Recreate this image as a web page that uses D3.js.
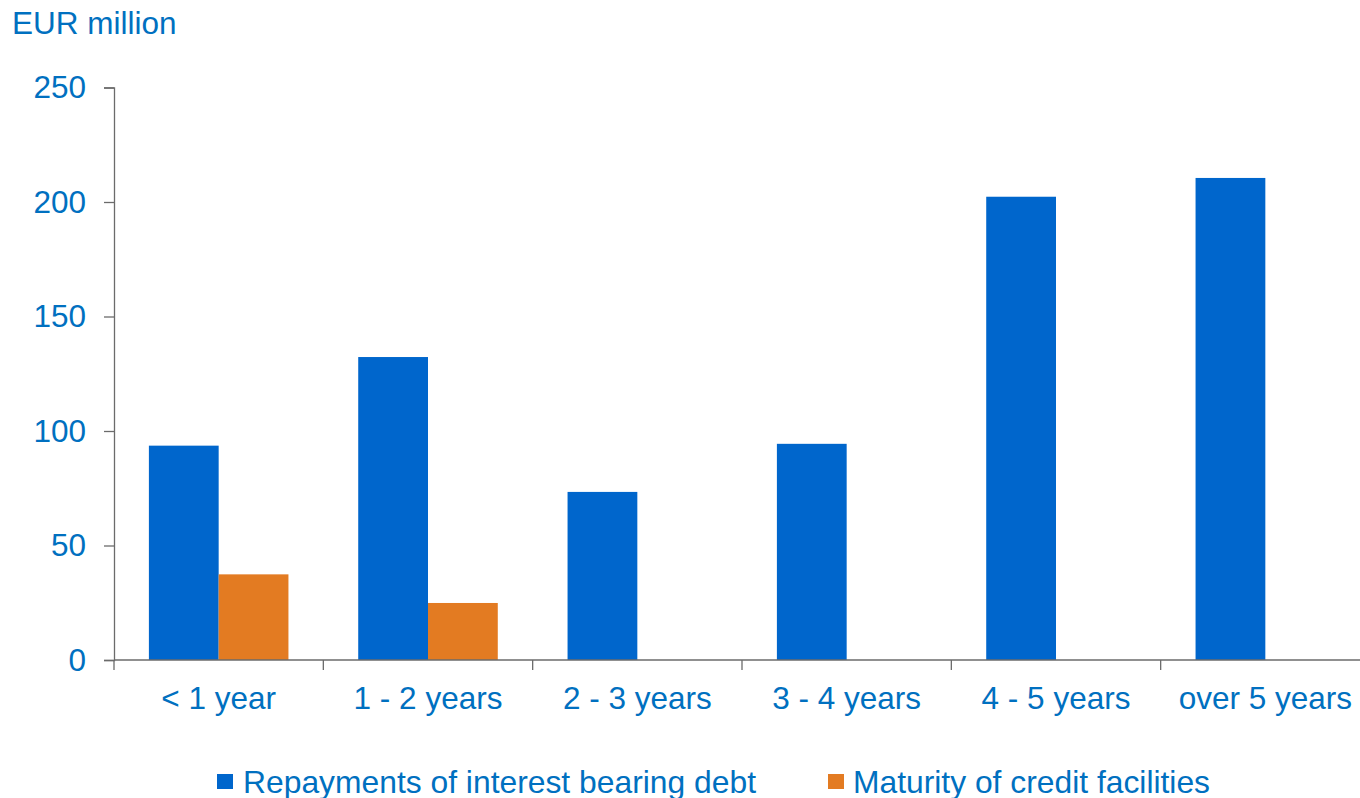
<!DOCTYPE html>
<html>
<head>
<meta charset="utf-8">
<script src="https://cdn.jsdelivr.net/npm/d3@7"></script>
<style>
  html, body { margin: 0; padding: 0; background: #fff; }
  svg { display: block; }
  text { font-family: "Liberation Sans", Arial, sans-serif; fill: #0070C0; }
</style>
</head>
<body>
<svg id="chart" width="1360" height="798"></svg>
<script>
// Debt maturity profile, EUR million
const categories = ["< 1 year", "1 - 2 years", "2 - 3 years", "3 - 4 years", "4 - 5 years", "over 5 years"];
const seriesNames = ["Repayments of interest bearing debt", "Maturity of credit facilities"];
const repayments = [93.6, 132.3, 73.4, 94.4, 202.3, 210.5];
const creditFacilities = [37.4, 24.9, 0, 0, 0, 0];
const yTicks = [0, 50, 100, 150, 200, 250];
const colors = ["#0066CC", "#E37B22"];

const svg = d3.select("#chart");
const plotLeft = 114, plotRight = 1370, plotTop = 87.5, plotBottom = 660;
const fontSize = 31.5;

const x = d3.scaleBand().domain(categories).range([plotLeft, plotRight]).paddingInner(0).paddingOuter(0);
const xs = d3.scaleBand().domain(seriesNames).range([0, x.bandwidth()]).paddingInner(0).paddingOuter(0.5);
const y = d3.scaleLinear().domain([0, 250]).range([plotBottom, plotTop]);

const data = categories.map((c, i) => ({ cat: c, values: [repayments[i], creditFacilities[i]] }));

// bars
const groups = svg.append("g").selectAll("g").data(data).join("g")
  .attr("transform", d => `translate(${x(d.cat)},0)`);
groups.selectAll("rect")
  .data(d => d.values.map((v, j) => ({ name: seriesNames[j], v, j })).filter(e => e.v > 0))
  .join("rect")
  .attr("x", e => xs(e.name))
  .attr("width", xs.bandwidth())
  .attr("y", e => y(e.v))
  .attr("height", e => y(0) - y(e.v))
  .attr("fill", e => colors[e.j]);

// y axis
const yAxis = svg.append("g").attr("transform", `translate(${plotLeft},0)`)
  .call(d3.axisLeft(y).tickValues(yTicks).tickSize(10).tickPadding(18).tickFormat(d3.format("d")));
yAxis.select(".domain").attr("stroke", "#6b6b6b").attr("stroke-width", 1.3);
yAxis.selectAll(".tick line").attr("stroke", "#6b6b6b").attr("stroke-width", 1.3);
yAxis.selectAll(".tick text").attr("font-size", fontSize).attr("fill", "#0070C0")
  .style("font-family", "'Liberation Sans', Arial, sans-serif");

// x axis baseline and boundary ticks
const xg = svg.append("g");
xg.append("line").attr("x1", plotLeft).attr("x2", 1360).attr("y1", y(0)).attr("y2", y(0))
  .attr("stroke", "#6b6b6b").attr("stroke-width", 1.3);
xg.selectAll("line.bt").data(categories).join("line").attr("class", "bt")
  .attr("x1", d => x(d)).attr("x2", d => x(d))
  .attr("y1", y(0)).attr("y2", y(0) + 10)
  .attr("stroke", "#6b6b6b").attr("stroke-width", 1.3);
xg.selectAll("text").data(categories).join("text")
  .attr("x", d => x(d) + x.bandwidth() / 2)
  .attr("y", y(0) + 49)
  .attr("text-anchor", "middle")
  .attr("font-size", fontSize)
  .text(d => d);

// unit label
svg.append("text").attr("x", 12).attr("y", 34).attr("font-size", fontSize).text("EUR million");

// legend
const legendItems = [
  { name: seriesNames[0], color: colors[0], sx: 217, tx: 243, w: 513 },
  { name: seriesNames[1], color: colors[1], sx: 828, tx: 853, w: 357 }
];
const lg = svg.append("g");
legendItems.forEach(it => {
  lg.append("rect").attr("x", it.sx).attr("y", 774).attr("width", 16).attr("height", 15).attr("fill", it.color);
  lg.append("text").attr("x", it.tx).attr("y", 793).attr("font-size", fontSize)
    .attr("textLength", it.w).attr("lengthAdjust", "spacingAndGlyphs").text(it.name);
});
</script>
</body>
</html>
